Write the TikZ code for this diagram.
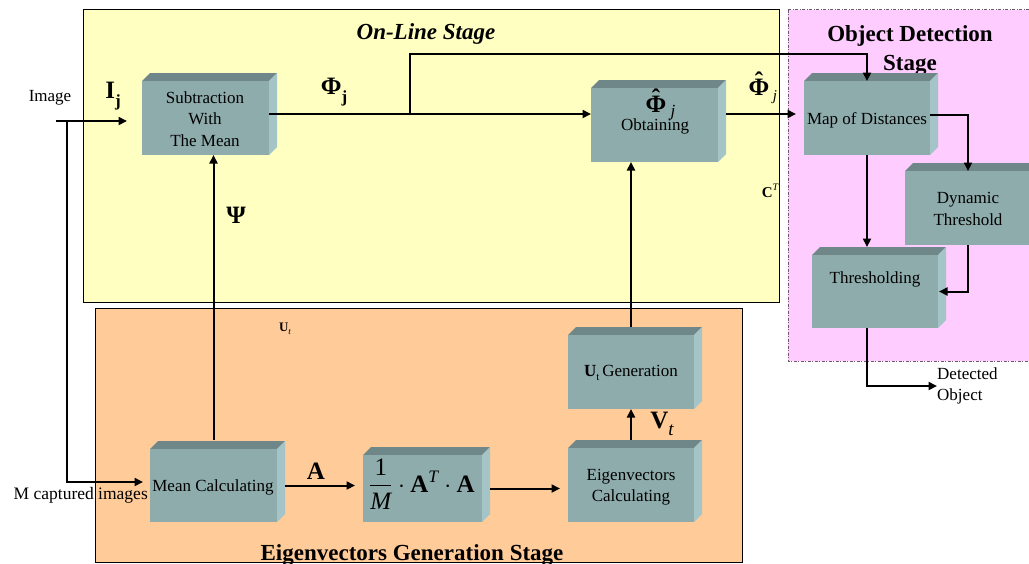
\documentclass[tikz,border=0pt]{standalone}
\usepackage{amsmath}
\usepackage{fontspec}
\setmainfont{Liberation Serif}
\usetikzlibrary{arrows.meta,fit,calc}

\definecolor{onlinebg}{HTML}{FFFFC2}
\definecolor{eigenbg}{HTML}{FFCC99}
\definecolor{detectbg}{HTML}{FFCCFF}
\definecolor{detectborder}{HTML}{6A5A6A}
\definecolor{facefront}{HTML}{8FACAD}
\definecolor{facetop}{HTML}{6F8788}
\definecolor{faceside}{HTML}{A4C4C7}

% bold Phi with a circumflex above it
\newcommand\hatphi{\leavevmode\vbox{\offinterlineskip\halign{\hfil##\hfil\cr
  \textbf{ˆ}\cr\noalign{\kern-0.42em}\textbf{Φ}\cr}}}

% a raised-look block: front face node plus top and side faces
\newcommand\block[5]{%
  \fill[facetop] (#2,#3) -- (#2+8,#3-8) -- (#4+8,#3-8) -- (#4,#3) -- cycle;
  \fill[faceside] (#4,#3) -- (#4+8,#3-8) -- (#4+8,#5-8) -- (#4,#5) -- cycle;
  \node[blockface, fit={(#2,#3) (#4,#5)}] (#1) {};
}

\tikzset{
  blockface/.style={fill=facefront, draw=none, inner sep=0pt, outer sep=0pt},
  lbl/.style={font=\fontsize{17}{21.5}\selectfont, align=center, inner sep=0pt},
  sym/.style={font=\fontsize{25}{25}\selectfont\bfseries, inner sep=0pt},
  title/.style={font=\fontsize{23}{29}\selectfont\bfseries, align=center, inner sep=0pt},
  stagebox/.style={line width=0.8pt},
  conn/.style={line width=2pt},
  arr/.style={conn, -{Triangle[length=8.5pt,width=8pt]}},
}

\begin{document}
\begin{tikzpicture}[x=1pt,y=-1pt]
\useasboundingbox (0,0) rectangle (1029,563);
\clip (0,0) rectangle (1029,563);
\fill[white] (0,0) rectangle (1029,563);

% stage frames
\filldraw[stagebox, fill=onlinebg, draw=black] (83,9.5) rectangle (779,302);
\filldraw[stagebox, fill=eigenbg, draw=black] (95.5,308) rectangle (742,562);
\filldraw[stagebox, fill=detectbg, draw=detectborder, dash pattern=on 3pt off 1.5pt on 1pt off 1.5pt] (788,9.5) rectangle (1040,361);

% stage titles
\node[title, font=\fontsize{23}{29}\selectfont\bfseries\itshape] (ttlonline) at (426,34) {On-Line Stage};
\node[title] (ttldetect) at (910,51) {Object Detection\\Stage};
\node[title] (ttleigen) at (412,555) {Eigenvectors Generation Stage};

% blocks
\block{sub}{142}{81}{269}{155}
\block{obt}{591}{88}{718}{162}
\block{map}{804}{81}{930}{155}
\block{dyn}{905}{171}{1031}{245}
\block{thr}{812}{255}{938}{328}
\block{mean}{150}{449}{277}{522}
\block{frac}{363}{455}{482}{522}
\block{eig}{568}{448}{694}{522}
\block{ut}{568}{335}{694}{409}

% block texts
\node[lbl] (subtxt) at (205,119) {Subtraction\\With\\The Mean};
\node[sym] (obthat) at (656,101) {\hatphi};
\node[font=\fontsize{17}{17}\selectfont\itshape, inner sep=0pt] (obtj) at (673,113) {j};
\node[lbl] (obttxt) at (655,126) {Obtaining};
\node[lbl] (maptxt) at (867,120) {Map of Distances};
\node[lbl] (dyntxt) at (968,209) {Dynamic\\Threshold};
\node[lbl] (thrtxt) at (875,279) {Thresholding};
\node[lbl] (meantxt) at (213,487) {Mean Calculating};
\node[inner sep=0pt, font=\fontsize{25}{25}\selectfont] (fractxt) at (422,484)
  {$\dfrac{\text{1}}{\text{\itshape M}}\cdot\text{\bfseries A}^{\text{\itshape T}}\cdot\text{\bfseries A}$};
\node[lbl] (eigtxt) at (631,487) {Eigenvectors\\Calculating};
\node[lbl] (uttxt) at (631,373) {\textbf{U}\raisebox{-0.25em}{\fontsize{11}{11}\selectfont t}\,Generation};

% outside labels
\node[lbl] (imgtxt) at (50,98) {Image};
\node[lbl, anchor=east, font=\fontsize{17.5}{21.5}\selectfont] (mcap) at (148,495) {M captured images};
\node[lbl, anchor=west, align=left] (det) at (937,386) {Detected\\Object};

% signal labels
\node[sym] (ij) at (113,96) {I\raisebox{-0.3em}{\fontsize{17}{17}\selectfont j}};
\node[sym] (phij) at (334,92) {Φ\raisebox{-0.3em}{\fontsize{17}{17}\selectfont j}};
\node[sym] (psi) at (236,215) {Ψ};
\node[sym] (phihat) at (759,84) {\hatphi};
\node[font=\fontsize{15}{15}\selectfont\itshape, inner sep=0pt] (phihatj) at (775,97) {j};
\node[inner sep=0pt, font=\fontsize{15}{15}\selectfont] (ct) at (770,191) {\textbf{C}\raisebox{0.5em}{\fontsize{10}{10}\selectfont\itshape T}};
\node[inner sep=0pt, font=\fontsize{13}{13}\selectfont] (utl) at (285,329) {\textbf{U}\raisebox{-0.25em}{\fontsize{9}{9}\selectfont\itshape t}};
\node[sym] (albl) at (316,471) {A};
\node[sym] (vt) at (662,424) {V\raisebox{-0.3em}{\fontsize{19}{19}\selectfont\mdseries\itshape t}};

% connectors
\coordinate (imgin) at (56,121);
\coordinate (split) at (67,121);
\coordinate (subin) at (127,121);
\coordinate (meanin) at (143,482);
\draw[arr] (imgin) -- (subin);
\draw[arr] (split) |- (meanin);

\coordinate (phiout) at ([yshift=4pt]sub.east);
\coordinate (br) at (410,114);
\draw[arr] (phiout) -- (phiout -| obt.west);
\draw[arr] (br) -- (410,54) -| (map.north);

\coordinate (obtout) at (obt.east |- phiout);
\coordinate (mapin) at (796,114);
\draw[arr] ([xshift=8pt]obtout) -- (mapin);

\draw[arr] ([yshift=3pt]map.east) -| (dyn.north);
\coordinate (thrtop) at ([yshift=8pt]thr.north);
\draw[arr] (map.south) -- (map.south |- thrtop);
\draw[arr] (dyn.south) |- ([xshift=1pt]thr.east);
\coordinate (throut) at (thr.south -| map.south);
\draw[arr] (throut) |- (det.west);

\draw[arr] ([yshift=9pt]mean.north) -- (mean.north |- sub.south);
\draw[arr] ([xshift=8pt]mean.east) -- ([xshift=-8pt]frac.west |- mean.east);
\draw[arr] ([xshift=8pt]frac.east) -- ([xshift=-8pt]frac.east -| eig.west);
\draw[arr] ([yshift=8pt]eig.north) -- (ut.south);
\draw[arr] ([yshift=8pt]ut.north) -- (ut.north |- obt.south);
\end{tikzpicture}
\end{document}
